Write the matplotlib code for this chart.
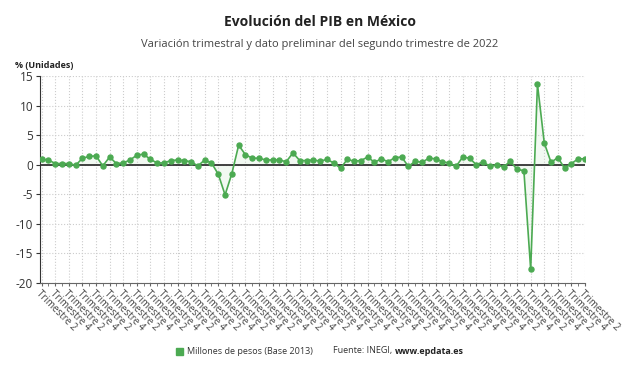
import matplotlib
matplotlib.use("Agg")
import matplotlib.pyplot as plt
import numpy as np

plt.rcParams['font.family'] = ['Open Sans', 'DejaVu Sans']

# Quarterly GDP variation, Q2 2002 .. Q2 2022
values = [0.9, 0.8, 0.2, 0.2, 0.2, -0.1, 1.1, 1.4, 1.5, -0.2,
          1.3, 0.2, 0.3, 0.8, 1.6, 1.8, 0.9, 0.3, 0.3, 0.7,
          0.8, 0.7, 0.5, -0.2, 0.8, 0.3, -1.6, -5.1, -1.5, 3.3,
          1.7, 1.1, 1.1, 0.8, 0.8, 0.8, 0.5, 2.0, 0.7, 0.7,
          0.8, 0.6, 0.9, 0.3, -0.6, 0.9, 0.6, 0.7, 1.3, 0.4,
          1.0, 0.5, 1.2, 1.3, -0.3, 0.6, 0.4, 1.1, 1.0, 0.5,
          0.3, -0.3, 1.3, 1.1, 0.0, 0.5, -0.3, 0.0, -0.4, 0.6,
          -0.8, -1.0, -17.7, 13.6, 3.7, 0.4, 1.2, -0.6, 0.2, 1.0,
          1.0]
categories = ["Trimestre 2" if i % 4 == 0 else "Trimestre 4" if i % 4 == 2 else
              ("Trimestre 3" if i % 4 == 1 else "Trimestre 1") for i in range(len(values))]
yticks = [15, 10, 5, 0, -5, -10, -15, -20]

green = "#4caa52"
W, H = 640, 376
fig = plt.figure(figsize=(W / 100, H / 100), dpi=100)
ax = fig.add_axes([40 / W, 1 - 283 / H, (585 - 40) / W, (283 - 76) / H])

x = np.arange(len(values))
ax.fill_between(x, values, 0, color=green, alpha=0.07, lw=0)
ax.axhline(0, color="#333333", lw=1.3, zorder=2)
ax.plot(x, values, color=green, lw=1.2, marker="o", ms=3.6, zorder=3)

ax.set_xlim(-0.25, len(values) - 1)
ax.set_ylim(-20, 15)
ax.set_yticks(yticks)
ax.set_yticklabels([str(v) for v in yticks], fontsize=8.5, color="#333333")
ax.set_xticks(x[::2])
ax.set_xticklabels(categories[::2], rotation=-45, ha="left", va="top",
                   rotation_mode="anchor", fontsize=7, color="#444444")
ax.set_xticks(x, minor=True)
ax.tick_params(axis="x", which="both", length=2, color="#666666", pad=2)
ax.tick_params(axis="y", length=3, color="#333333", pad=2)
ax.grid(True, which="major", color="#cccccc", ls=":", lw=0.8)
for s in ["top", "right"]:
    ax.spines[s].set_visible(False)
ax.spines["left"].set_color("#333333")
ax.spines["bottom"].set_color("#666666")
ax.spines["bottom"].set_linestyle((0, (1, 1)))

fig.text(320 / W, 1 - 22 / H, "Evolución del PIB en México", ha="center", va="center",
         fontsize=10, fontweight="bold", color="#222222")
fig.text(320 / W, 1 - 45 / H, "Variación trimestral y dato preliminar del segundo trimestre de 2022",
         ha="center", va="center", fontsize=8, color="#444444")
fig.text(15 / W, 1 - 65 / H, "% (Unidades)", ha="left", va="center", fontsize=6.5,
         fontweight="bold", color="#222222")

# legend / source
fig.patches.append(plt.Rectangle((176 / W, 1 - 355 / H), 7 / W, 7 / H, transform=fig.transFigure,
                                 color=green, figure=fig))
fig.text(187 / W, 1 - 351 / H, "Millones de pesos (Base 2013)", ha="left", va="center",
         fontsize=6.5, color="#333333")
t = fig.text(333 / W, 1 - 351 / H, "Fuente: INEGI, ", ha="left", va="center",
             fontsize=6.5, color="#333333")
fig.canvas.draw()
bb = t.get_window_extent()
fig.text(bb.x1 / W, 1 - 351 / H, "www.epdata.es", ha="left", va="center",
         fontsize=6.5, color="#222222", fontweight="bold")

fig.savefig("out.png", dpi=100)
